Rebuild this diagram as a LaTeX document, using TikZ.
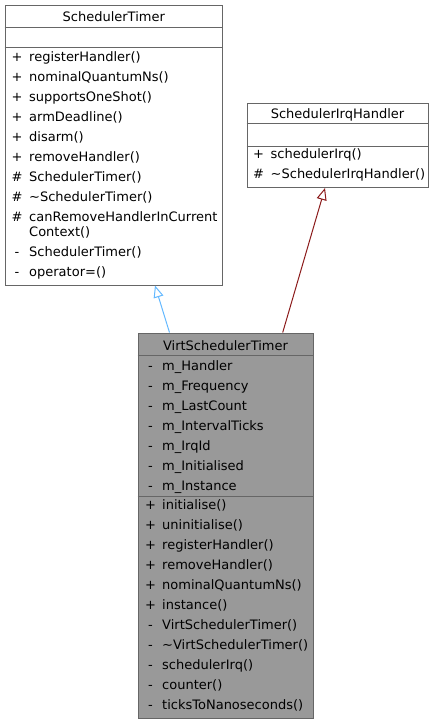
\documentclass[tikz,border=0pt]{standalone}
\usepackage{fontspec}
\setmainfont{DejaVu Sans}
\usetikzlibrary{arrows.meta}
\definecolor{boxline}{HTML}{666666}
\definecolor{boxgray}{HTML}{999999}
\definecolor{inhblue}{HTML}{63B8FF}
\definecolor{inhred}{HTML}{8B1A1A}
\tikzset{
  classbox/.style={draw=boxline, line width=1pt, inner sep=0pt, fill=white},
  rowrule/.style={draw=boxline, line width=1pt},
  member/.style={anchor=base west, inner sep=0pt},
  vis/.style={anchor=base, inner sep=0pt},
  classname/.style={anchor=base, inner sep=0pt},
  inherit/.style={line width=1pt, -{Triangle[open, length=12pt, width=10pt]}},
}

\begin{document}
\begin{tikzpicture}[x=1pt, y=-1pt, every node/.style={font=\fontsize{13}{15}\selectfont}]
			%%%%% START %%%%%
			\useasboundingbox (0,0) rectangle (434,724);
			
			% SchedulerTimer
			\node[classbox, minimum width=217.5pt, minimum height=280pt] (st) at (113.75,145) {};
			\draw[rowrule] ([yshift=-22.7pt]st.north west) -- ([yshift=-22.7pt]st.north east);
			\draw[rowrule] ([yshift=-42.7pt]st.north west) -- ([yshift=-42.7pt]st.north east);
			\node[classname] (stname) at (113.75,21.2) {SchedulerTimer};
			\node[vis] (stv1) at (17,61.2) {+};
			\node[member] (stm1) at (29,61.2) {registerHandler()};
			\node[vis] (stv2) at (17,81.2) {+};
			\node[member] (stm2) at (29,81.2) {nominalQuantumNs()};
			\node[vis] (stv3) at (17,101.2) {+};
			\node[member] (stm3) at (29,101.2) {supportsOneShot()};
			\node[vis] (stv4) at (17,121.2) {+};
			\node[member] (stm4) at (29,121.2) {armDeadline()};
			\node[vis] (stv5) at (17,141.2) {+};
			\node[member] (stm5) at (29,141.2) {disarm()};
			\node[vis] (stv6) at (17,161.2) {+};
			\node[member] (stm6) at (29,161.2) {removeHandler()};
			\node[vis] (stv7) at (17,181.2) {\#};
			\node[member] (stm7) at (29,181.2) {SchedulerTimer()};
			\node[vis] (stv8) at (17,201.2) {\#};
			\node[member] (stm8) at (29,201.2) {\textasciitilde SchedulerTimer()};
			\node[vis] (stv9) at (17,221.2) {\#};
			\node[member] (stm9) at (29,221.2) {canRemoveHandlerInCurrent};
			\node[member] (stm9b) at (29,236.2) {Context()};
			\node[vis] (stv10) at (17,256.2) {-};
			\node[member] (stm10) at (29,256.2) {SchedulerTimer()};
			\node[vis] (stv11) at (17,276.2) {-};
			\node[member] (stm11) at (29,276.2) {operator=()};
			
			% SchedulerIrqHandler
			\node[classbox, minimum width=181pt, minimum height=84.5pt] (sih) at (337.5,145.25) {};
			\draw[rowrule] ([yshift=-21pt]sih.north west) -- ([yshift=-21pt]sih.north east);
			\draw[rowrule] ([yshift=-44pt]sih.north west) -- ([yshift=-44pt]sih.north east);
			\node[classname] (sihname) at (337.5,118.8) {SchedulerIrqHandler};
			\node[vis] (sihv1) at (258.5,158.5) {+};
			\node[member] (sihm1) at (270.5,158.5) {schedulerIrq()};
			\node[vis] (sihv2) at (258.5,178.5) {\#};
			\node[member] (sihm2) at (270.5,178.5) {\textasciitilde SchedulerIrqHandler()};
			
			% VirtSchedulerTimer
			\node[classbox, fill=boxgray, minimum width=175pt, minimum height=385pt] (vst) at (225.5,525.5) {};
			\draw[rowrule] ([yshift=-23pt]vst.north west) -- ([yshift=-23pt]vst.north east);
			\draw[rowrule] ([yshift=-164pt]vst.north west) -- ([yshift=-164pt]vst.north east);
			\node[classname] (vstname) at (225.5,350.2) {VirtSchedulerTimer};
			\node[vis] (vstv1) at (150.5,370.5) {-};
			\node[member] (vstf1) at (162,370.5) {m\_Handler};
			\node[vis] (vstv2) at (150.5,390.5) {-};
			\node[member] (vstf2) at (162,390.5) {m\_Frequency};
			\node[vis] (vstv3) at (150.5,410.5) {-};
			\node[member] (vstf3) at (162,410.5) {m\_LastCount};
			\node[vis] (vstv4) at (150.5,430.5) {-};
			\node[member] (vstf4) at (162,430.5) {m\_IntervalTicks};
			\node[vis] (vstv5) at (150.5,450.5) {-};
			\node[member] (vstf5) at (162,450.5) {m\_IrqId};
			\node[vis] (vstv6) at (150.5,470.5) {-};
			\node[member] (vstf6) at (162,470.5) {m\_Initialised};
			\node[vis] (vstv7) at (150.5,490.5) {-};
			\node[member] (vstf7) at (162,490.5) {m\_Instance};
			\node[vis] (vstw1) at (150.5,509.5) {+};
			\node[member] (vstm1) at (162,509.5) {initialise()};
			\node[vis] (vstw2) at (150.5,529.5) {+};
			\node[member] (vstm2) at (162,529.5) {uninitialise()};
			\node[vis] (vstw3) at (150.5,549.5) {+};
			\node[member] (vstm3) at (162,549.5) {registerHandler()};
			\node[vis] (vstw4) at (150.5,569.5) {+};
			\node[member] (vstm4) at (162,569.5) {removeHandler()};
			\node[vis] (vstw5) at (150.5,589.5) {+};
			\node[member] (vstm5) at (162,589.5) {nominalQuantumNs()};
			\node[vis] (vstw6) at (150.5,609.5) {+};
			\node[member] (vstm6) at (162,609.5) {instance()};
			\node[vis] (vstw7) at (150.5,629.5) {-};
			\node[member] (vstm7) at (162,629.5) {VirtSchedulerTimer()};
			\node[vis] (vstw8) at (150.5,649.5) {-};
			\node[member] (vstm8) at (162,649.5) {\textasciitilde VirtSchedulerTimer()};
			\node[vis] (vstw9) at (150.5,669.5) {-};
			\node[member] (vstm9) at (162,669.5) {schedulerIrq()};
			\node[vis] (vstw10) at (150.5,689.5) {-};
			\node[member] (vstm10) at (162,689.5) {counter()};
			\node[vis] (vstw11) at (150.5,709.5) {-};
			\node[member] (vstm11) at (162,709.5) {ticksToNanoseconds()};
			
			% inheritance
			\draw[inherit, inhblue] ([xshift=-56pt]vst.north) -- ([xshift=41.25pt]st.south);
			\draw[inherit, inhred] ([xshift=57.2pt]vst.north) -- ([xshift=-12.5pt]sih.south);
			
			%%%%% END %%%%%
\end{tikzpicture}
\end{document}
